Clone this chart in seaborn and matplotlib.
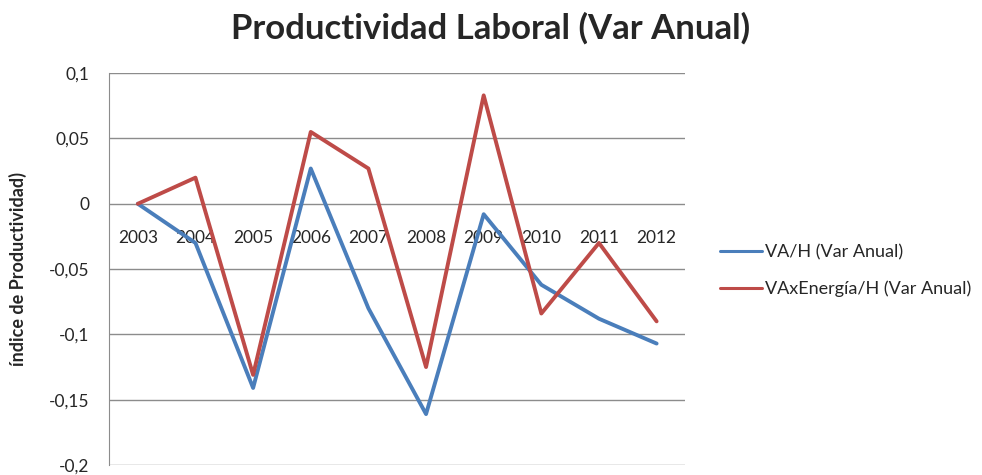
import seaborn as sns
import pandas as pd
import matplotlib.pyplot as plt

years = ['2003', '2004', '2005', '2006', '2007', '2008', '2009', '2010', '2011', '2012']
va_h = [0.0, -0.030, -0.141, 0.027, -0.080, -0.161, -0.008, -0.062, -0.088, -0.107]
va_energia_h = [0.0, 0.020, -0.131, 0.055, 0.027, -0.125, 0.083, -0.084, -0.030, -0.090]
series_names = ['VA/H (Var Anual)', 'VAxEnergía/H (Var Anual)']
colors = ['#4A7EBB', '#BE4B48']

df = pd.DataFrame({
    'year': years * 2,
    'value': va_h + va_energia_h,
    'serie': [series_names[0]] * len(years) + [series_names[1]] * len(years),
})

sns.set_style('white')
plt.rcParams['font.family'] = ['Lato', 'DejaVu Sans']

fig = plt.figure(figsize=(9.82, 4.75), dpi=100)
ax = fig.add_axes([0.111, 0.021, 0.587, 0.825])

sns.lineplot(data=df, x='year', y='value', hue='serie', palette=colors,
             linewidth=2.8, ax=ax, sort=False)

ax.set_xlim(-0.5, len(years) - 0.5)
ax.set_ylim(-0.2, 0.1)
ticks = [0.1, 0.05, 0, -0.05, -0.1, -0.15, -0.2]
ax.set_yticks(ticks)
ax.set_yticklabels([f'{t:g}'.replace('.', ',') for t in ticks], fontsize=12.5)
ax.yaxis.grid(True, color='#8c8c8c', linewidth=1)
ax.set_axisbelow(True)

for s in ['top', 'right']:
    ax.spines[s].set_visible(False)
ax.spines['left'].set_color('#8c8c8c')
ax.spines['bottom'].set_position(('data', 0))
ax.spines['bottom'].set_visible(False)
ax.tick_params(axis='x', length=0, pad=19, labelsize=12.5)
ax.tick_params(axis='y', length=0, pad=14)

ax.set_xlabel('')
ax.set_ylabel('índice de Productividad)', fontsize=13, fontweight='bold')
ax.yaxis.set_label_coords(-0.143, 0.5)

fig.suptitle('Productividad Laboral (Var Anual)', fontsize=25, fontweight='bold', x=0.5, y=0.975)

handles, labels = ax.get_legend_handles_labels()
ax.get_legend().remove()
fig.legend(handles, labels, loc='center left', bbox_to_anchor=(0.717, 0.43),
           frameon=False, fontsize=13, handlelength=2.3, handletextpad=0.15,
           labelspacing=1.15)
for h in fig.legends[0].get_lines():
    h.set_linewidth(2.2)

fig.savefig('out.png', dpi=100)
